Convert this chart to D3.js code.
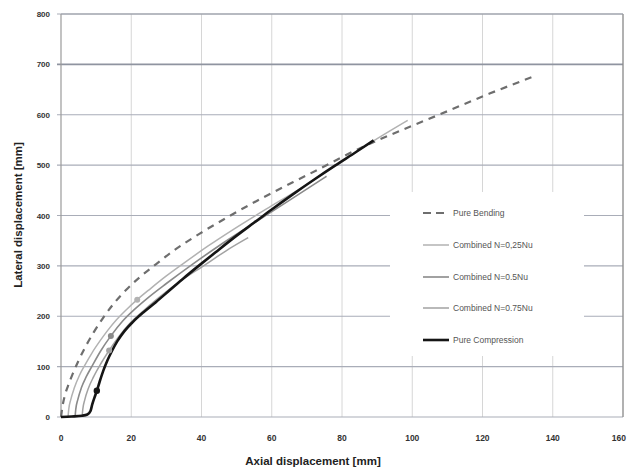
<!DOCTYPE html>
<html><head><meta charset="utf-8">
<script src="https://cdn.jsdelivr.net/npm/d3@7"></script>
<style>html,body{margin:0;padding:0;background:#fff;}svg{display:block;}</style>
</head><body>
<svg id="chart" width="627" height="470"></svg>
<script>
// ---- data ----
const xTicks = [0, 20, 40, 60, 80, 100, 120, 140, 160];
const yTicks = [0, 100, 200, 300, 400, 500, 600, 700, 800];
const seriesNames = ["Pure Bending", "Combined N=0,25Nu", "Combined N=0.5Nu", "Combined N=0.75Nu", "Pure Compression"];
const pureBending = [[0,0],[0.4,20],[1,40],[2,62],[3.3,85],[5,112],[7,140],[9.3,168],[11.9,196],[15,225],[18.5,252],[22.5,278],[27,303],[32,330],[39.5,364],[48,399],[57.6,436],[66,466],[74,494],[82,523],[90.7,551],[100,578],[110,607],[122,642],[135.3,678]];
const combined025 = [[2,0],[2.2,15],[2.8,35],[3.8,58],[5.2,82],[6.8,103],[8.8,127],[11,150],[13.3,172],[15.8,193],[18.6,213],[21.7,233],[25.5,255],[30,280],[34.3,302],[42,340],[49,372],[58.5,413],[68,453],[78,498],[88,544],[98.7,589]];
const combined05 = [[4,0],[4.2,15],[4.8,35],[5.8,58],[7.2,80],[9,103],[11.2,130],[14.2,161],[17.5,190],[21,214],[25,238],[30,265],[37.2,302],[45,340],[55,385],[65,430],[75.6,478]];
const combined075 = [[6,0],[6.2,15],[6.8,35],[7.8,57],[9.3,80],[11.1,103],[13.7,132],[16.5,160],[19.5,185],[23,208],[27.5,235],[33,265],[41,302],[47,330],[53.3,356]];
const pureCompression = [[0,0],[3,1],[6,2.5],[7.5,5],[8.4,12],[8.9,25],[9.5,38],[10.2,52],[11,70],[12,91],[13.2,112],[14.5,131],[16,150],[18,170],[20.5,189],[23.5,208],[27,228],[31,252],[35,276],[39,299],[44,327],[50,360],[55,386],[60,412],[66,442],[72,471],[78,499],[84,526],[89,549]];
const markers = [[21.7,233,1],[14.2,161,2],[13.7,132,3],[10.2,52,4]];

// ---- layout ----
const svg = d3.select("#chart");
const L = 61, R = 623, T = 14, B = 417;
const x = d3.scaleLinear().domain([0,160]).range([L,R]);
const y = d3.scaleLinear().domain([0,800]).range([B,T]);

const styles = [
  {color:"#6e6e6e", width:2.2, dash:"7,6"},
  {color:"#b2b2b2", width:1.5, dash:null},
  {color:"#8a8a8a", width:1.6, dash:null},
  {color:"#a2a2a2", width:1.5, dash:null},
  {color:"#151515", width:2.6, dash:null}
];
const data = [pureBending, combined025, combined05, combined075, pureCompression];

// vertical gridlines
svg.append("g").selectAll("line").data(xTicks.slice(1)).join("line")
  .attr("x1", d=>x(d)).attr("x2", d=>x(d)).attr("y1", T).attr("y2", B)
  .attr("stroke", "#d6d6d6").attr("stroke-width", 1);
// horizontal gridlines
svg.append("g").selectAll("line").data(yTicks).join("line")
  .attr("x1", L-4).attr("x2", R).attr("y1", d=>y(d)).attr("y2", d=>y(d))
  .attr("stroke", d => d===700 ? "#8f94a0" : "#a9adb8").attr("stroke-width", d => d===700 ? 1.6 : 1.2);
// frame
svg.append("line").attr("x1",L).attr("x2",L).attr("y1",T).attr("y2",B).attr("stroke","#9a9a9a").attr("stroke-width",1.2);
svg.append("line").attr("x1",R).attr("x2",R).attr("y1",T).attr("y2",B).attr("stroke","#8a8a8a").attr("stroke-width",1.2);
svg.append("line").attr("x1",L).attr("x2",R).attr("y1",T).attr("y2",T).attr("stroke","#9a9ea8").attr("stroke-width",1.2);

// tick labels
const fontFam = "'Liberation Sans', 'DejaVu Sans', sans-serif";
svg.append("g").selectAll("text").data(yTicks).join("text")
  .attr("x", 50).attr("y", d=>y(d)+3).attr("text-anchor","end")
  .attr("font-family", fontFam).attr("font-size", 8).attr("font-weight","bold").attr("fill","#333")
  .text(d=>d);
svg.append("g").selectAll("text").data(xTicks).join("text")
  .attr("x", (d,i)=> i===xTicks.length-1 ? 626 : x(d)).attr("y", 441)
  .attr("text-anchor", (d,i)=> i===xTicks.length-1 ? "end" : "middle")
  .attr("font-family", fontFam).attr("font-size", 8.5).attr("font-weight","bold").attr("fill","#333")
  .text(d=>d);

// axis titles
svg.append("text").attr("x", 313).attr("y", 465).attr("text-anchor","middle")
  .attr("font-family", fontFam).attr("font-size", 11.5).attr("font-weight","bold").attr("fill","#222")
  .text("Axial displacement [mm]");
svg.append("text").attr("transform","translate(22,215) rotate(-90)").attr("text-anchor","middle")
  .attr("font-family", fontFam).attr("font-size", 11.5).attr("font-weight","bold").attr("fill","#222")
  .text("Lateral displacement [mm]");

// legend background
svg.append("rect").attr("x",390).attr("y",192).attr("width",194).attr("height",164).attr("fill","#fff");

// curves
const line = d3.line().x(d=>x(d[0])).y(d=>y(d[1])).curve(d3.curveMonotoneX);
data.forEach((s,i)=>{
  svg.append("path").attr("d", line(s)).attr("fill","none")
    .attr("stroke", styles[i].color).attr("stroke-width", styles[i].width)
    .attr("stroke-dasharray", styles[i].dash).attr("stroke-linecap","butt").attr("stroke-linejoin","round");
});
// markers
svg.append("g").selectAll("circle").data(markers).join("circle")
  .attr("cx", d=>x(d[0])).attr("cy", d=>y(d[1])).attr("r", d => d[2]===4 ? 3.2 : 3)
  .attr("fill", d=>styles[d[2]].color);

// legend
const ly = [213, 245, 277, 308, 340];
const lg = svg.append("g");
seriesNames.forEach((n,i)=>{
  lg.append("line").attr("x1",423).attr("x2",449).attr("y1",ly[i]).attr("y2",ly[i])
    .attr("stroke", styles[i].color).attr("stroke-width", styles[i].width)
    .attr("stroke-dasharray", i===0 ? "8,5" : null);
  lg.append("text").attr("x",453).attr("y",ly[i]+3).attr("font-family", fontFam)
    .attr("font-size", 8.5).attr("fill","#555").text(n);
});
</script>
</body></html>
